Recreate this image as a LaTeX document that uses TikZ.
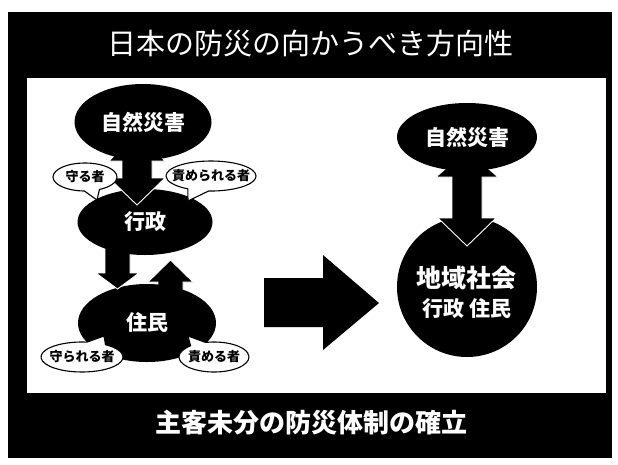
\documentclass[tikz,border=0pt]{standalone}
\usepackage{fontspec}
\newfontfamily\cjk{Noto Sans CJK JP}
\usetikzlibrary{shapes.geometric,shapes.callouts}
\newcommand\bt[1]{\makebox[0pt]{#1}}
\begin{document}
\begin{tikzpicture}[x=1pt,y=-1pt,
  blob/.style={ellipse, fill=black, inner sep=0pt, text=white,
    font=\cjk\bfseries\fontsize{21}{21}\selectfont},
  bubble/.style={ellipse callout, draw=black, line width=1.1pt, fill=white,
    inner sep=0pt, callout pointer arc=28,
    font=\cjk\bfseries\fontsize{13}{13}\selectfont},
  blockarrow/.style={fill=black, draw=white, line width=0.9pt, line join=miter},
  headline/.style={text=white, inner sep=0pt}]
\useasboundingbox (0,0) rectangle (618,464);
\fill[white] (0,0) rectangle (618,464);
\fill[black] (8,12) rectangle (612,458);
\fill[white] (27,78) rectangle (606,393);

\node[headline, font=\cjk\fontsize{29}{29}\selectfont] (title) at (310,43) {日本の防災の向かうべき方向性};
\node[headline, font=\cjk\bfseries\fontsize{26}{26}\selectfont] (motto) at (311,423) {主客未分の防災体制の確立};

% ---- left diagram ----
\coordinate (a3tip) at (170.5,260);
\fill[blockarrow] (a3tip) -- (193,282) -- (183,282) -- (183,305) -- (158,305) -- (158,282) -- (148,282) -- cycle;
\node[blob, minimum width=138pt, minimum height=78pt] (jumin) at (147,323) {住民};
\coordinate (a2tip) at (117.5,289);
\fill[blockarrow] (a2tip) -- (139,273) -- (130,273) -- (130,240) -- (105,240) -- (105,273) -- (96,273) -- cycle;
\node[blob, minimum width=135pt, minimum height=66pt] (gyosei) at (145,222) {行政};
\coordinate (a1top) at (137,132);
\coordinate (a1bot) at (137,205);
\fill[blockarrow] (a1top) -- (165,161) -- (152,161) -- (152,178) -- (165,178) -- (a1bot) -- (109,178) -- (122,178) -- (122,161) -- (109,161) -- cycle;
\node[blob, minimum width=137pt, minimum height=76pt] (saigai1) at (143,122) {自然災害};

\node[bubble, minimum width=64pt, minimum height=28pt, callout absolute pointer={(97,200)}] (mamoru) at (85,177) {\bt{守る者}};
\node[bubble, minimum width=90pt, minimum height=30pt, callout absolute pointer={(188,201)}] (semerareru) at (211,176) {\bt{責められる者}};
\node[bubble, minimum width=82pt, minimum height=30pt, callout absolute pointer={(104,336)}] (mamorareru) at (82,357) {\bt{守られる者}};
\node[bubble, minimum width=70pt, minimum height=30pt, callout absolute pointer={(188,336)}] (semeru) at (214,357) {\bt{責める者}};

% ---- big arrow ----
\fill[black] (264,278) -- (323,278) -- (323,255) -- (379,303) -- (323,350) -- (323,327) -- (264,327) -- cycle;

% ---- right diagram ----
\node[circle, fill=black, minimum size=140pt, inner sep=0pt] (chiiki) at (467,287) {};
\node[headline, font=\cjk\bfseries\fontsize{25}{25}\selectfont] (chiikitext) at (466,278) {地域社会};
\node[headline, font=\cjk\bfseries\fontsize{21}{21}\selectfont] (gjtext) at (467,309) {行政 住民};
\coordinate (a4top) at (467,150);
\coordinate (a4bot) at (467,246);
\fill[blockarrow] (a4top) -- (498,177) -- (482,177) -- (482,218) -- (496,218) -- (a4bot) -- (438,218) -- (452,218) -- (452,177) -- (436,177) -- cycle;
\node[blob, minimum width=140pt, minimum height=68pt] (saigai2) at (467,137) {自然災害};
\end{tikzpicture}
\end{document}
